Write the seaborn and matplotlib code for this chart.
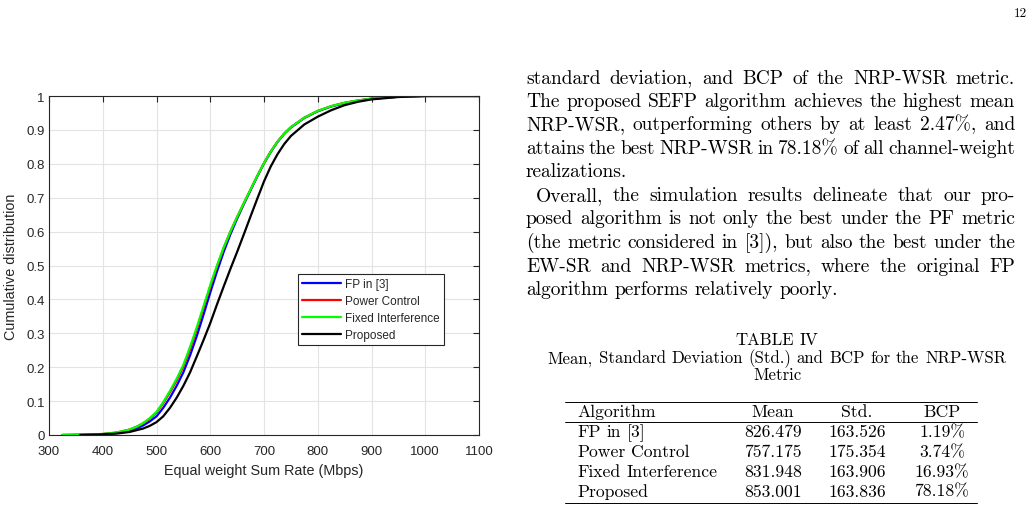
import matplotlib
matplotlib.use("Agg")
import matplotlib.pyplot as plt
from matplotlib.lines import Line2D
import pandas as pd
import seaborn as sns

# CDF curves (rate in Mbps -> cumulative distribution)
rate_grid = [325, 350, 375, 400, 425, 450, 462.5, 475, 487.5, 500, 512.5, 525,
             537.5, 550, 562.5, 575, 587.5, 600, 612.5, 625, 637.5, 650, 662.5,
             675, 687.5, 700, 712.5, 725, 737.5, 750, 775, 800, 825, 850, 875,
             900, 950, 1000, 1100]
fp_cdf = [0, 0.0005, 0.0012, 0.0025, 0.006, 0.013, 0.019, 0.028, 0.04, 0.055,
          0.08, 0.11, 0.145, 0.185, 0.235, 0.292, 0.355, 0.42, 0.482, 0.54,
          0.592, 0.638, 0.681, 0.722, 0.763, 0.801, 0.835, 0.864, 0.888, 0.907,
          0.935, 0.955, 0.969, 0.979, 0.986, 0.992, 0.998, 1.0, 1.0]
pc_cdf = [0, 0.0005, 0.0015, 0.003, 0.007, 0.016, 0.024, 0.034, 0.048, 0.066,
          0.094, 0.126, 0.161, 0.202, 0.254, 0.312, 0.375, 0.438, 0.497, 0.552,
          0.6, 0.643, 0.684, 0.724, 0.764, 0.802, 0.836, 0.865, 0.889, 0.908,
          0.936, 0.956, 0.97, 0.98, 0.987, 0.992, 0.998, 1.0, 1.0]
fi_cdf = [0, 0.0005, 0.0015, 0.003, 0.007, 0.016, 0.024, 0.035, 0.05, 0.068,
          0.097, 0.13, 0.166, 0.207, 0.26, 0.318, 0.38, 0.442, 0.5, 0.553,
          0.6, 0.643, 0.684, 0.724, 0.764, 0.802, 0.836, 0.865, 0.889, 0.908,
          0.936, 0.956, 0.97, 0.98, 0.987, 0.992, 0.998, 1.0, 1.0]
prop_rate = [358, 375, 400, 425, 450, 475, 487.5, 500, 512.5, 525, 537.5, 550,
             562.5, 575, 587.5, 600, 612.5, 625, 637.5, 650, 662.5, 675, 687.5,
             700, 712.5, 725, 737.5, 750, 775, 800, 825, 850, 875, 900, 950,
             1000, 1100]
prop_cdf = [0, 0.0008, 0.002, 0.004, 0.009, 0.019, 0.027, 0.038, 0.055, 0.08,
            0.11, 0.145, 0.185, 0.232, 0.28, 0.33, 0.385, 0.438, 0.49, 0.54,
            0.592, 0.645, 0.697, 0.748, 0.792, 0.828, 0.858, 0.882, 0.916, 0.939,
            0.958, 0.973, 0.983, 0.99, 0.997, 1.0, 1.0]

series_names = ["FP in [3]", "Power Control", "Fixed Interference", "Proposed"]
series_colors = ["#0000ff", "#ff0000", "#00ff00", "#000000"]

x_ticks = [300, 400, 500, 600, 700, 800, 900, 1000, 1100]
y_ticks = [0, 0.1, 0.2, 0.3, 0.4, 0.5, 0.6, 0.7, 0.8, 0.9, 1]
y_tick_labels = ["0", "0.1", "0.2", "0.3", "0.4", "0.5", "0.6", "0.7", "0.8", "0.9", "1"]

# page text next to the chart
body_lines = [
    "standard deviation, and BCP of the NRP-WSR metric.",
    "The proposed SEFP algorithm achieves the highest mean",
    "NRP-WSR, outperforming others by at least 2.47%, and",
    "attains the best NRP-WSR in 78.18% of all channel-weight",
    "realizations.",
    "Overall, the simulation results delineate that our pro-",
    "posed algorithm is not only the best under the PF metric",
    "(the metric considered in [3]), but also the best under the",
    "EW-SR and NRP-WSR metrics, where the original FP",
    "algorithm performs relatively poorly.",
]
caption_lines = ["TABLE IV",
                 "Mean, Standard Deviation (Std.) and BCP for the NRP-WSR",
                 "Metric"]
table_header = ["Algorithm", "Mean", "Std.", "BCP"]
table_algs = ["FP in [3]", "Power Control", "Fixed Interference", "Proposed"]
table_mean = ["826.479", "757.175", "831.948", "853.001"]
table_std = ["163.526", "175.354", "163.906", "163.836"]
table_bcp = ["1.19%", "3.74%", "16.93%", "78.18%"]

sns.set_theme(style="white")
plt.rcParams["font.family"] = ["Liberation Sans", "DejaVu Sans"]
SERIF = ["cmr10", "DejaVu Serif"]
W, H = 1034, 506

fig = plt.figure(figsize=(W / 100, H / 100), dpi=100)
fig.patch.set_facecolor("white")
ax = fig.add_axes([49 / W, 70 / H, 430 / W, 339 / H])

curves = [(rate_grid, fp_cdf), (rate_grid, pc_cdf), (rate_grid, fi_cdf), (prop_rate, prop_cdf)]
for (xs, ys), name, col in zip(curves, series_names, series_colors):
    df = pd.DataFrame({"rate": xs, "cdf": ys})
    sns.lineplot(data=df, x="rate", y="cdf", color=col, lw=1.6, label=name,
                 estimator=None, sort=False, ax=ax)

ax.set_xlim(300, 1100)
ax.set_ylim(0, 1)
ax.set_xticks(x_ticks)
ax.set_yticks(y_ticks)
ax.set_yticklabels(y_tick_labels)
ax.grid(True, color="#e3e3e3", lw=0.8)
ax.set_axisbelow(True)
for sp in ax.spines.values():
    sp.set_color("#262626")
    sp.set_linewidth(0.8)
ax.tick_params(direction="in", top=True, right=True, length=4, width=0.8,
               color="#262626", labelcolor="#262626", labelsize=9.5)
ax.tick_params(axis="x", pad=7)
ax.tick_params(axis="y", pad=3)
ax.set_xlabel("Equal weight Sum Rate (Mbps)", fontsize=10.4, color="#262626")
ax.set_ylabel("Cumulative distribution", fontsize=10.4, color="#262626")
ax.xaxis.set_label_coords(0.5, -0.083)
ax.yaxis.set_label_coords(-0.072, 0.5)

leg = ax.legend(loc="upper left", bbox_to_anchor=(0.579, 0.475), borderaxespad=0,
                fontsize=8.5, handlelength=3.3, handletextpad=0.35, labelspacing=0.42,
                borderpad=0.35, fancybox=False, framealpha=1, edgecolor="#262626")
leg.get_frame().set_linewidth(0.8)
for t in leg.get_texts():
    t.set_color("#262626")

renderer = fig.canvas.get_renderer()


def word_width(word, size):
    t = fig.text(0, 0, word, fontsize=size, family=SERIF)
    w = t.get_window_extent(renderer).width
    t.remove()
    return w


def put_words(text, y, size, left=None, right=None, center=None):
    words = text.split()
    widths = [word_width(w, size) for w in words]
    gap = 0.333 * size * 100 / 72
    if left is not None and right is not None and len(words) > 1:
        gap = (right - left - sum(widths)) / (len(words) - 1)
    if center is not None:
        left = center - (sum(widths) + gap * (len(words) - 1)) / 2
    x = left
    for w, wd in zip(words, widths):
        fig.text(x / W, 1 - y / H, w, fontsize=size, family=SERIF,
                 ha="left", va="baseline", color="black")
        x += wd + gap


# body paragraphs (justified)
for i, line in enumerate(body_lines):
    y = 83.5 + 23.5 * i
    x0 = 536 if line.startswith("Overall") else 526
    if i in (4, 9):
        put_words(line, y, 14, left=x0)
    else:
        put_words(line, y, 14, left=x0, right=1015)

# table caption
for line, y in zip(caption_lines, [345, 363.3, 380]):
    put_words(line, y, 12.1, center=777)

# table body
col_centers = [773, 857, 942]
put_words(table_header[0], 417, 12.7, left=577)
for h, c in zip(table_header[1:], col_centers):
    put_words(h, 417, 12.7, center=c)
row_base = [437.5, 457.2, 477, 496.7]
for j, y in enumerate(row_base):
    put_words(table_algs[j], y, 12.7, left=577)
    for val, c in zip([table_mean[j], table_std[j], table_bcp[j]], col_centers):
        put_words(val, y, 12.7, center=c)
for y in [402.5, 422.5, 503.5]:
    fig.add_artist(Line2D([565 / W, 977 / W], [1 - y / H, 1 - y / H],
                          transform=fig.transFigure, color="black", lw=0.7))

# page number
put_words("12", 16.7, 9.5, center=1020)

fig.savefig("out.png", dpi=100, facecolor="white")
